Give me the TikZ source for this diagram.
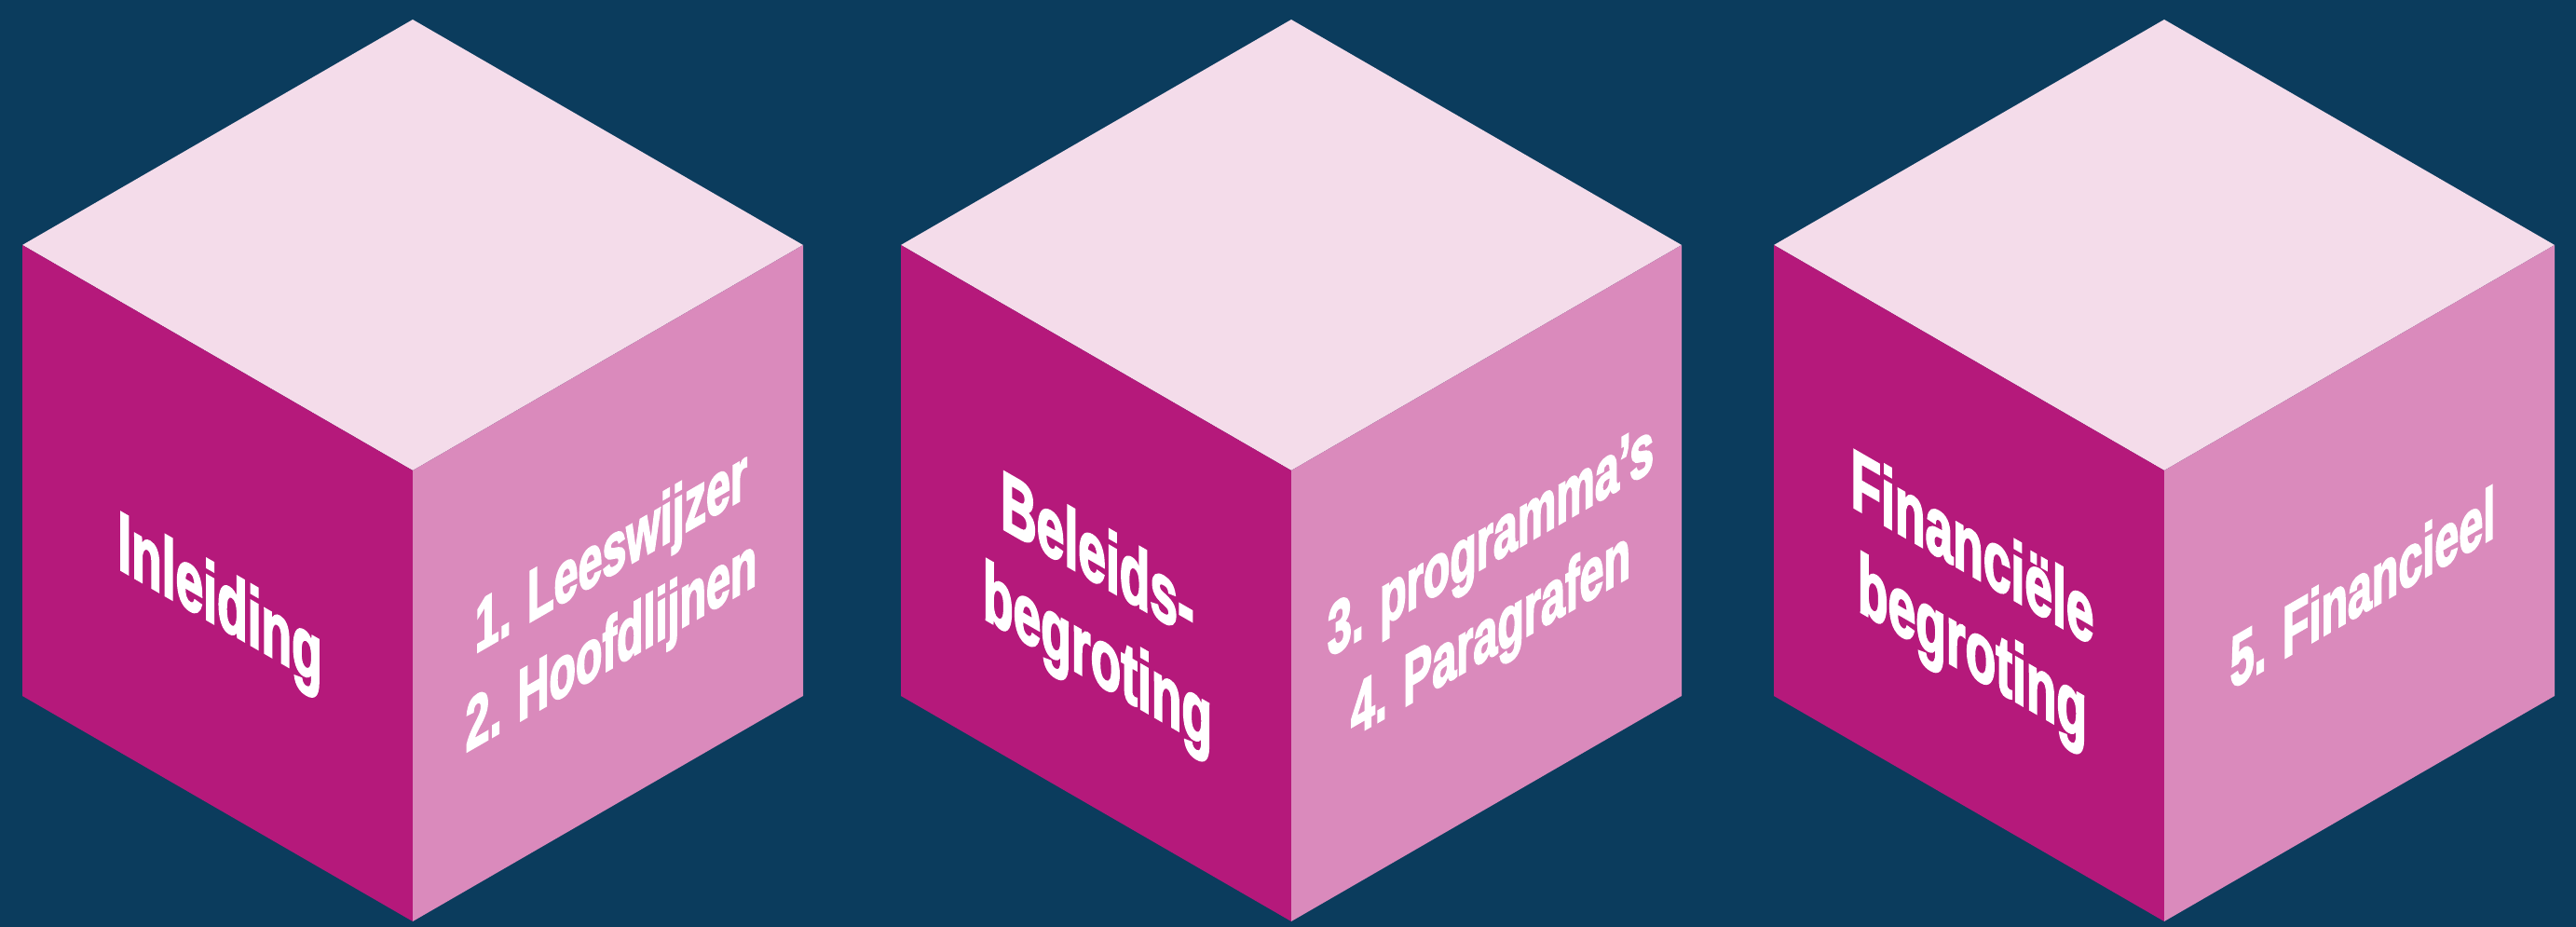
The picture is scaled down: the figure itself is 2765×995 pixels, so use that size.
\documentclass[tikz,border=0pt]{standalone}
\usepackage{fontspec}
\setmainfont{Liberation Sans}
\newfontfamily\cubefont[UprightFont={* Bold},UprightFeatures={FakeBold=3}]{Liberation Sans}
\definecolor{bgc}{HTML}{0B3C5D}
\definecolor{topc}{HTML}{F4DCEA}
\definecolor{leftc}{HTML}{B5197B}
\definecolor{rightc}{HTML}{DA8ABC}
\begin{document}
\begin{tikzpicture}[x=0.01cm,y=-0.01cm,
  isocube/.pic={
    \fill[topc] (0,0) -- (-419,-242) -- (0,-484) -- (419,-242) -- cycle;
    \fill[leftc] (0,0) -- (-419,-242) -- (-419,242) -- (0,484) -- cycle;
    \fill[rightc] (0,0) -- (419,-242) -- (419,242) -- (0,484) -- cycle;
  },
  lefttext/.style={text=white, inner sep=0pt, align=center,
    font=\cubefont\fontsize{25.5}{30.7}\selectfont,
    cm={0.595,-0.3435,0,1,(0,0)}},
  righttext/.style={text=white, inner sep=0pt, align=center,
    font=\cubefont\fontsize{22.3}{28.5}\selectfont,
    cm={0.595,0.3435,0,1,(0,0)}}]
\fill[bgc] (0,0) rectangle (2765,995);
\useasboundingbox (0,0) rectangle (2765,995);
\pic at (443,505) {isocube};
\pic at (1386,505) {isocube};
\pic at (2323,505) {isocube};
\node[lefttext] (t1l) at (236,650) {Inleiding};
\node[righttext] (t1r) at (656,647) {1. Leeswijzer\\2. Hoofdlijnen};
\node[lefttext] (t2l) at (1178,657) {Beleids-\\begroting};
\node[righttext] (t2r) at (1600,636) {3. programma’s\\4. Paragrafen};
\node[lefttext] (t3l) at (2117,649) {Financiële\\begroting};
\node[righttext] (t3r) at (2536,630) {5. Financieel};
\end{tikzpicture}
\end{document}
